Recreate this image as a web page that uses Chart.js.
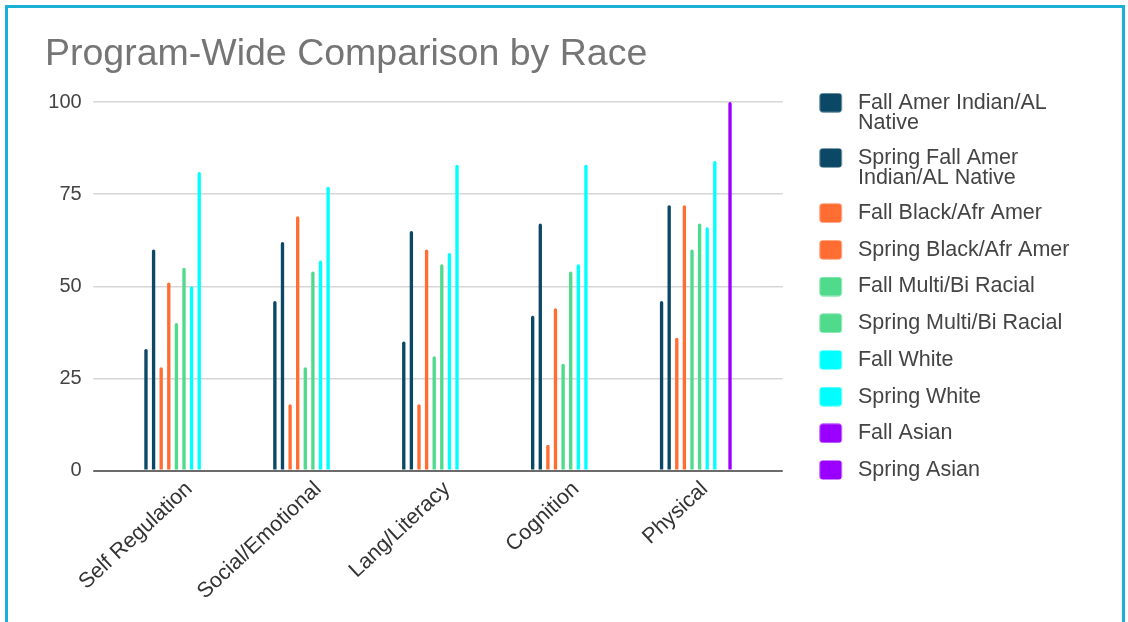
<!DOCTYPE html>
<html>
<head>
<meta charset="utf-8">
<title>Program-Wide Comparison by Race</title>
<script src="https://cdn.jsdelivr.net/npm/chart.js@4.4.0/dist/chart.umd.min.js"></script>
<style>
  html, body { margin: 0; padding: 0; background: #fff; }
  #wrap { position: relative; width: 1128px; height: 622px; overflow: hidden; }
  #wrap canvas { position: absolute; left: 0; top: 0; }
  #frame {
    position: absolute; left: 5px; top: 5px; width: 1114px; height: 640px;
    border: 3px solid #1bb1d7; pointer-events: none;
  }
</style>
</head>
<body>
<div id="wrap">
  <canvas id="chart" width="1128" height="622"></canvas>
  <div id="frame"></div>
</div>
<script>
// Domains on the x axis
const categories = ['Self Regulation', 'Social/Emotional', 'Lang/Literacy', 'Cognition', 'Physical'];

// Series names (arrays are wrapped legend lines)
const seriesNames = [
  ['Fall Amer Indian/AL', 'Native'],
  ['Spring Fall Amer', 'Indian/AL Native'],
  'Fall Black/Afr Amer',
  'Spring Black/Afr Amer',
  'Fall Multi/Bi Racial',
  'Spring Multi/Bi Racial',
  'Fall White',
  'Spring White',
  'Fall Asian',
  'Spring Asian'
];

const seriesColors = [
  '#0b4866', '#0b4866',
  '#ff6d33', '#ff6d33',
  '#4fda8c', '#4fda8c',
  '#00ffff', '#00ffff',
  '#9a00ff', '#9a00ff'
];

// Scores per domain
const fallAmerIndian = [33, 46, 35, 42, 46];
const springAmerIndian = [60, 62, 65, 67, 72];
const fallBlack = [28, 18, 18, 7, 36];
const springBlack = [51, 69, 60, 44, 72];
const fallMulti = [40, 28, 31, 29, 60];
const springMulti = [55, 54, 56, 54, 67];
const fallWhite = [50, 57, 59, 56, 66];
const springWhite = [81, 77, 83, 83, 84];
const fallAsian = [null, null, null, null, null];
const springAsian = [null, null, null, null, 100];

const seriesValues = [
  fallAmerIndian, springAmerIndian, fallBlack, springBlack, fallMulti,
  springMulti, fallWhite, springWhite, fallAsian, springAsian
];

const yTicks = [0, 25, 50, 75, 100];

Chart.defaults.font.family = "'Liberation Sans', Arial, sans-serif";

// gridlines: darker baseline at zero
const gridColor = ctx => (ctx.tick && ctx.tick.value === 0 ? '#6b6b6b' : '#d6d6d6');
const gridWidth = ctx => (ctx.tick && ctx.tick.value === 0 ? 2 : 1.5);
const setTicks = scale => { scale.ticks = yTicks.map(v => ({ value: v })); };

// legend swatch: rounded square with extra room before the text
function swatch(color) {
  const c = document.createElement('canvas');
  c.width = 28;
  c.height = 20;
  const g = c.getContext('2d');
  g.fillStyle = color;
  g.beginPath();
  g.roundRect(0.5, 0.5, 22, 19, 3);
  g.fill();
  return c;
}

const datasets = seriesNames.map((name, i) => ({
  label: name,
  data: seriesValues[i],
  backgroundColor: seriesColors[i],
  borderRadius: 2,
  borderSkipped: 'start'
}));

new Chart(document.getElementById('chart'), {
  type: 'bar',
  data: { labels: categories, datasets: datasets },
  options: {
    responsive: false,
    animation: false,
    layout: { padding: { top: 20, left: 45, right: 52, bottom: 0 } },
    datasets: { bar: { categoryPercentage: 0.59, barPercentage: 0.44 } },
    plugins: {
      tooltip: { enabled: false },
      title: {
        display: true,
        text: 'Program-Wide Comparison by Race',
        align: 'start',
        color: '#757575',
        font: { size: 37.5, weight: 'normal', lineHeight: 1.2 },
        padding: { top: 12, bottom: 25 }
      },
      legend: {
        position: 'right',
        align: 'start',
        maxWidth: 272,
        title: { display: true, text: '', font: { size: 10, lineHeight: 1 }, padding: { top: 46.75, bottom: 0 } },
        labels: {
          color: '#444',
          font: { size: 21.5, lineHeight: 20 / 21.5 },
          padding: 15.2,
          usePointStyle: true,
          pointStyleWidth: 28,
          generateLabels(chart) {
            const items = Chart.defaults.plugins.legend.labels.generateLabels(chart);
            items.forEach(item => { item.pointStyle = swatch(seriesColors[item.datasetIndex]); });
            return items;
          }
        }
      }
    },
    scales: {
      x: {
        grid: { display: false, drawTicks: false },
        border: { display: false },
        ticks: {
          color: '#333',
          font: { size: 21.5 },
          autoSkip: false,
          minRotation: 43,
          maxRotation: 43,
          padding: 6,
          labelOffset: 9
        },
        afterFit(scale) { scale.height = 151.5; }
      },
      y: {
        min: 0,
        max: 100,
        afterBuildTicks: setTicks,
        border: { display: false },
        grid: { color: gridColor, lineWidth: gridWidth, tickLength: 22.5 },
        ticks: { color: '#444', font: { size: 20 }, padding: 11.6 },
        afterFit(scale) { scale.width = 70.75; }
      },
      y2: {
        type: 'linear',
        position: 'right',
        min: 0,
        max: 100,
        afterBuildTicks: setTicks,
        border: { display: false },
        grid: { drawOnChartArea: false, color: gridColor, lineWidth: gridWidth, tickLength: 22.5 },
        ticks: { display: false },
        afterFit(scale) { scale.width = 43.75; }
      }
    }
  }
});
</script>
</body>
</html>
